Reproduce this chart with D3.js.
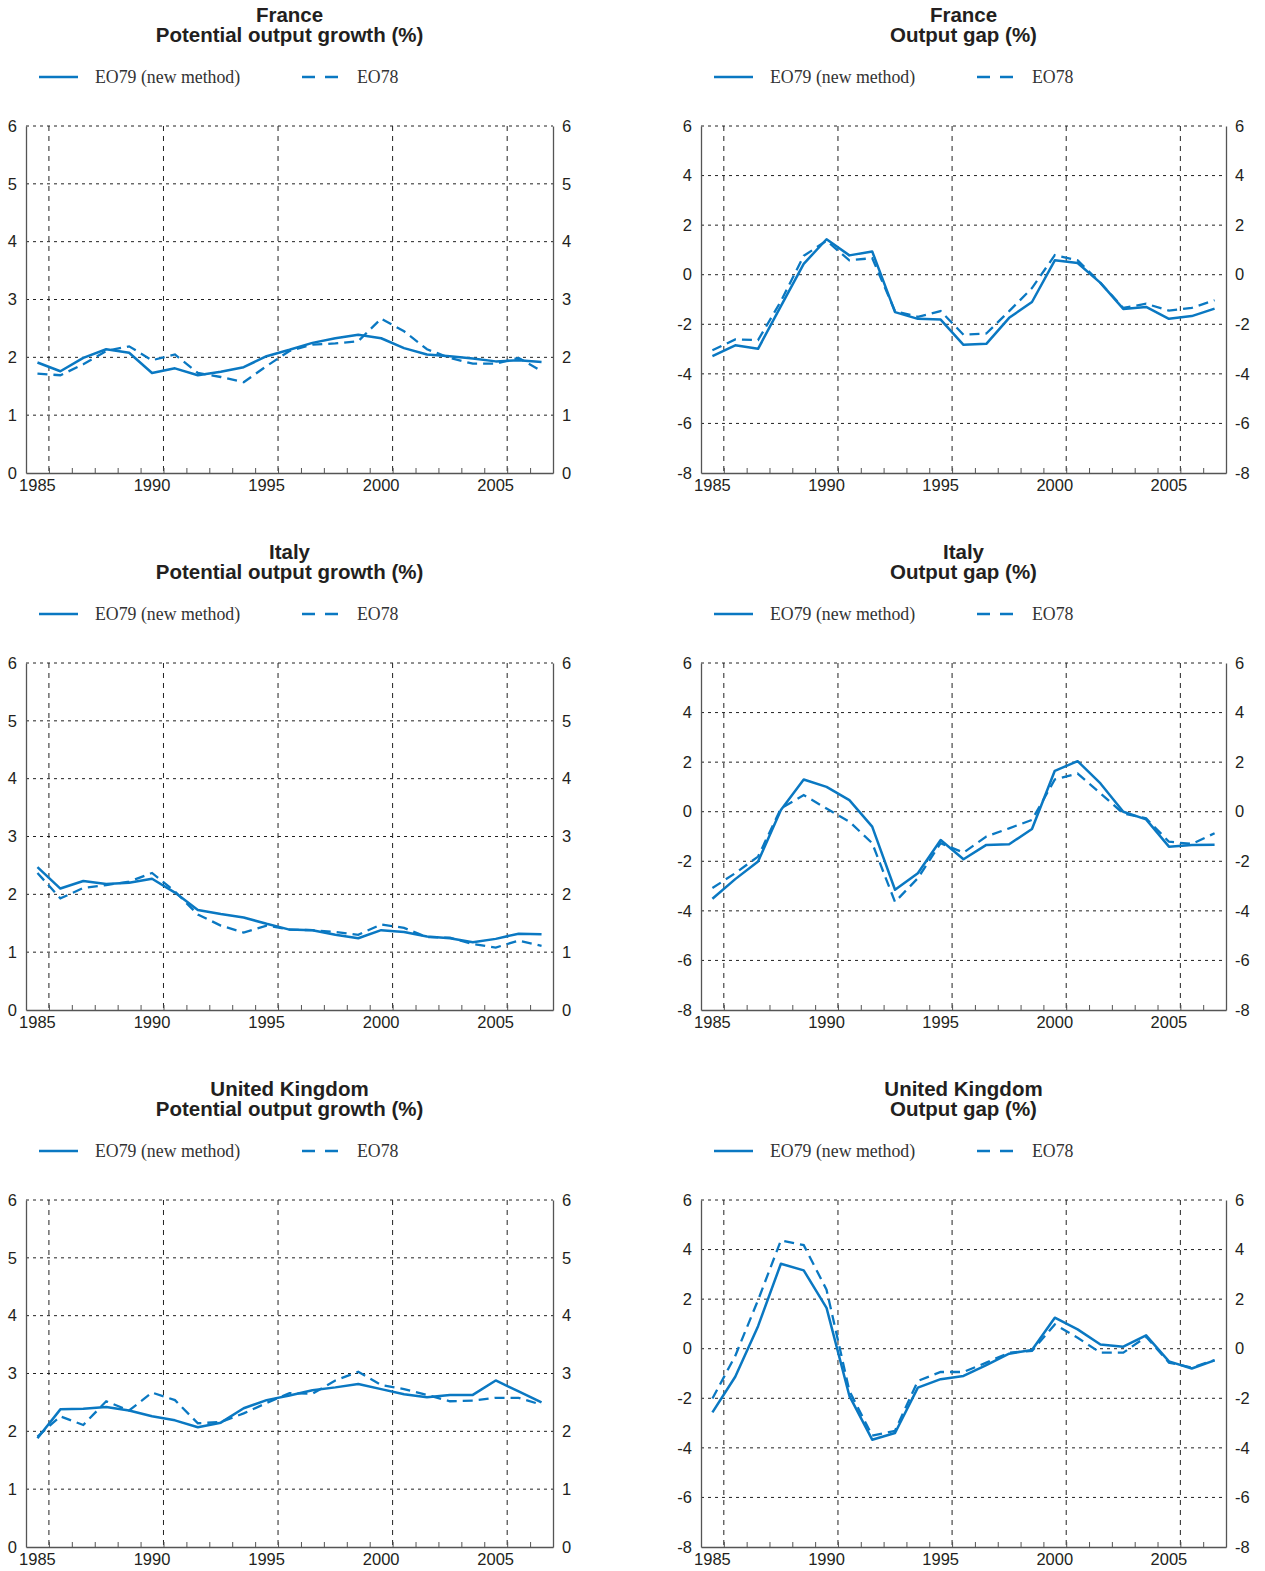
<!DOCTYPE html>
<html>
<head>
<meta charset="utf-8">
<script src="https://cdn.jsdelivr.net/npm/d3@7"></script>
<style>
  html, body { margin: 0; padding: 0; background: #fff; }
  svg { display: block; }
</style>
</head>
<body>
<svg id="chart" width="1265" height="1571"></svg>
<script>
// ---------- DATA ----------
const years = d3.range(1985, 2008);
const yearTickLabels = [1985, 1990, 1995, 2000, 2005];
const growthTicks = [0, 1, 2, 3, 4, 5, 6];
const gapTicks = [-8, -6, -4, -2, 0, 2, 4, 6];
const seriesNames = ["EO79 (new method)", "EO78"];
const countries = ["France", "Italy", "United Kingdom"];
const panelTitles = ["Potential output growth (%)", "Output gap (%)"];

const franceGrowthEO79 = [1.91,1.76,1.99,2.14,2.08,1.73,1.81,1.69,1.75,1.83,2.02,2.13,2.25,2.33,2.39,2.33,2.16,2.05,2.02,1.98,1.93,1.95,1.92];
const franceGrowthEO78 = [1.72,1.69,1.88,2.11,2.19,1.95,2.05,1.73,1.66,1.57,1.85,2.11,2.22,2.24,2.28,2.67,2.45,2.14,1.99,1.89,1.89,1.99,1.76];
const franceGapEO79 = [-3.28,-2.85,-2.99,-1.27,0.44,1.43,0.78,0.94,-1.51,-1.78,-1.81,-2.83,-2.79,-1.74,-1.10,0.58,0.47,-0.33,-1.38,-1.30,-1.78,-1.67,-1.37];
const franceGapEO78 = [-3.05,-2.61,-2.64,-1.07,0.76,1.37,0.58,0.67,-1.47,-1.70,-1.47,-2.42,-2.37,-1.47,-0.54,0.79,0.58,-0.33,-1.34,-1.17,-1.45,-1.34,-1.03];

const italyGrowthEO79 = [2.47,2.10,2.23,2.18,2.20,2.27,2.03,1.73,1.66,1.60,1.49,1.39,1.38,1.30,1.24,1.38,1.35,1.27,1.24,1.17,1.23,1.32,1.31];
const italyGrowthEO78 = [2.37,1.93,2.11,2.16,2.22,2.37,2.05,1.65,1.46,1.34,1.46,1.39,1.38,1.35,1.30,1.48,1.42,1.26,1.25,1.14,1.08,1.20,1.11];
const italyGapEO79 = [-3.51,-2.72,-2.01,0.07,1.30,1.00,0.47,-0.60,-3.15,-2.48,-1.14,-1.92,-1.34,-1.31,-0.70,1.65,2.04,1.14,0.00,-0.31,-1.41,-1.34,-1.33];
const italyGapEO78 = [-3.08,-2.48,-1.81,0.13,0.67,0.13,-0.40,-1.27,-3.64,-2.68,-1.27,-1.65,-1.00,-0.67,-0.33,1.30,1.54,0.74,-0.07,-0.27,-1.21,-1.30,-0.87];

const ukGrowthEO79 = [1.88,2.38,2.39,2.42,2.36,2.26,2.19,2.07,2.15,2.40,2.54,2.62,2.71,2.76,2.82,2.73,2.64,2.59,2.63,2.63,2.88,2.69,2.50];
const ukGrowthEO78 = [1.91,2.26,2.11,2.52,2.36,2.67,2.54,2.14,2.16,2.31,2.49,2.66,2.65,2.88,3.03,2.80,2.73,2.63,2.52,2.53,2.58,2.58,2.46];
const ukGapEO79 = [-2.57,-1.13,0.91,3.43,3.16,1.65,-1.90,-3.67,-3.40,-1.57,-1.23,-1.10,-0.66,-0.20,-0.05,1.25,0.78,0.17,0.08,0.54,-0.51,-0.80,-0.47];
const ukGapEO78 = [-2.01,-0.29,1.96,4.37,4.18,2.38,-1.70,-3.51,-3.31,-1.30,-0.94,-0.94,-0.56,-0.16,-0.09,0.98,0.44,-0.16,-0.16,0.48,-0.56,-0.76,-0.46];

// ---------- LAYOUT ----------
const BLUE = "#0a78c2";
const colX = [{x0: 26, x1: 553}, {x0: 701, x1: 1226}];
const rowTop = [126, 663, 1200];
const plotH = 347;
const SANS = "Liberation Sans, Arial, Helvetica, sans-serif";
const SERIF = "Liberation Serif, Times New Roman, serif";
const fmt = d => String(d);

const panels = [
  {row: 0, col: 0, country: countries[0], title: panelTitles[0], a: franceGrowthEO79, b: franceGrowthEO78, ticks: growthTicks},
  {row: 0, col: 1, country: countries[0], title: panelTitles[1], a: franceGapEO79, b: franceGapEO78, ticks: gapTicks},
  {row: 1, col: 0, country: countries[1], title: panelTitles[0], a: italyGrowthEO79, b: italyGrowthEO78, ticks: growthTicks},
  {row: 1, col: 1, country: countries[1], title: panelTitles[1], a: italyGapEO79, b: italyGapEO78, ticks: gapTicks},
  {row: 2, col: 0, country: countries[2], title: panelTitles[0], a: ukGrowthEO79, b: ukGrowthEO78, ticks: growthTicks},
  {row: 2, col: 1, country: countries[2], title: panelTitles[1], a: ukGapEO79, b: ukGapEO78, ticks: gapTicks}
];

const svg = d3.select("#chart");

panels.forEach(p => {
  const {x0, x1} = colX[p.col];
  const top = rowTop[p.row];
  const bottom = top + plotH;
  const cx = (x0 + x1) / 2;
  const g = svg.append("g");

  const x = d3.scaleLinear().domain([1984.5, 2007.5]).range([x0, x1]);
  const y = d3.scaleLinear().domain(d3.extent(p.ticks)).range([bottom, top]);

  // Titles
  g.append("text").attr("x", cx).attr("y", top - 104)
    .attr("text-anchor", "middle").attr("font-family", SANS)
    .attr("font-weight", "bold").attr("font-size", 20.5).attr("fill", "#231f20").text(p.country);
  g.append("text").attr("x", cx).attr("y", top - 84)
    .attr("text-anchor", "middle").attr("font-family", SANS)
    .attr("font-weight", "bold").attr("font-size", 20.5).attr("fill", "#231f20").text(p.title);

  // Legend
  const ly = top - 49;
  const legend = g.append("g");
  legend.append("line").attr("x1", x0 + 13).attr("x2", x0 + 52).attr("y1", ly).attr("y2", ly)
    .attr("stroke", BLUE).attr("stroke-width", 2.5);
  legend.append("text").attr("x", x0 + 69).attr("y", ly + 6)
    .attr("font-family", SERIF).attr("font-size", 17.8)
    .attr("fill", "#333").text(seriesNames[0]);
  legend.append("line").attr("x1", x0 + 276).attr("x2", x0 + 312).attr("y1", ly).attr("y2", ly)
    .attr("stroke", BLUE).attr("stroke-width", 2.5).attr("stroke-dasharray", "13,10");
  legend.append("text").attr("x", x0 + 331).attr("y", ly + 6)
    .attr("font-family", SERIF).attr("font-size", 17.8)
    .attr("fill", "#333").text(seriesNames[1]);

  // Horizontal grid
  g.append("g").selectAll("line").data(p.ticks.filter(t => t !== p.ticks[0])).join("line")
    .attr("x1", x0).attr("x2", x1).attr("y1", d => y(d)).attr("y2", d => y(d))
    .attr("stroke", "#222").attr("stroke-width", 1).attr("stroke-dasharray", "3,4");

  // Vertical grid (at year boundaries following labelled years)
  g.append("g").selectAll("line").data(yearTickLabels).join("line")
    .attr("x1", d => x(d + 0.5)).attr("x2", d => x(d + 0.5)).attr("y1", top).attr("y2", bottom)
    .attr("stroke", "#222").attr("stroke-width", 1).attr("stroke-dasharray", "5,5");

  // Bottom axis with minor inward ticks
  const xAxis = d3.axisBottom(x)
    .tickValues(years.slice(0, -1).map(d => d + 0.5))
    .tickSizeInner(-5).tickSizeOuter(0).tickFormat("");
  const xa = g.append("g").attr("transform", `translate(0,${bottom})`).call(xAxis);
  xa.select(".domain").attr("stroke", "#555").attr("stroke-width", 1.3);
  xa.selectAll(".tick line").attr("stroke", "#555");

  g.append("g").selectAll("text").data(yearTickLabels).join("text")
    .attr("x", d => x(d)).attr("y", bottom + 18).attr("text-anchor", "middle")
    .attr("font-family", SANS).attr("font-size", 16.5)
    .attr("fill", "#231f20").text(d => d);

  const yl = d3.axisLeft(y).tickValues(p.ticks).tickSize(0).tickPadding(9).tickFormat(fmt);
  const yla = g.append("g").attr("transform", `translate(${x0},0)`).call(yl);
  const yr = d3.axisRight(y).tickValues(p.ticks).tickSize(0).tickPadding(9).tickFormat(fmt);
  const yra = g.append("g").attr("transform", `translate(${x1},0)`).call(yr);
  [yla, yra].forEach(a => {
    a.select(".domain").attr("stroke", "#555").attr("stroke-width", 1.3);
    a.selectAll("text").attr("font-family", SANS)
      .attr("font-size", 16.5).attr("fill", "#231f20");
  });

  // Lines
  const line = d3.line().x((d, i) => x(years[i])).y(d => y(d));
  g.append("path").datum(p.b).attr("d", line).attr("fill", "none")
    .attr("stroke", BLUE).attr("stroke-width", 2.3).attr("stroke-dasharray", "10,6");
  g.append("path").datum(p.a).attr("d", line).attr("fill", "none")
    .attr("stroke", BLUE).attr("stroke-width", 2.5).attr("stroke-linejoin", "round");
});
</script>
</body>
</html>
